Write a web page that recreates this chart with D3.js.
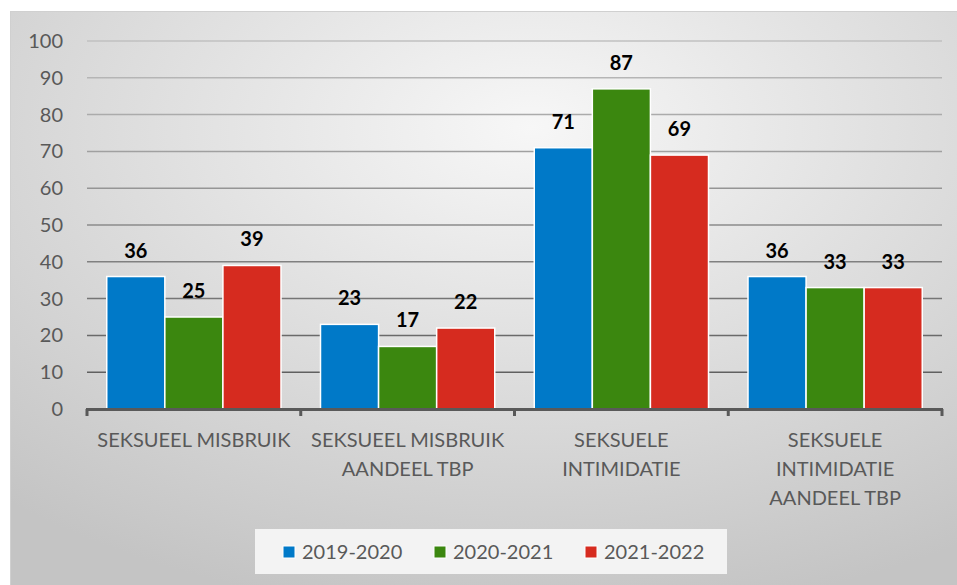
<!DOCTYPE html>
<html>
<head>
<meta charset="utf-8">
<script src="https://cdn.jsdelivr.net/npm/d3@7"></script>
<style>
  body { margin: 0; background: #fff; }
  svg { display: block; font-family: Lato, "Open Sans", sans-serif; }
</style>
</head>
<body>
<svg id="chart" width="957" height="585"></svg>
<script>
// data
var categories = ['SEKSUEEL MISBRUIK', 'SEKSUEEL MISBRUIK AANDEEL TBP', 'SEKSUELE INTIMIDATIE', 'SEKSUELE INTIMIDATIE AANDEEL TBP'];
var categoryLines = [
    ['SEKSUEEL MISBRUIK'],
    ['SEKSUEEL MISBRUIK', 'AANDEEL TBP'],
    ['SEKSUELE', 'INTIMIDATIE'],
    ['SEKSUELE', 'INTIMIDATIE', 'AANDEEL TBP']
];
var seriesNames = ['2019-2020', '2020-2021', '2021-2022'];
var seriesColors = ['#0079c8', '#3b870f', '#d62b1f'];
var values2019 = [36, 23, 71, 36];
var values2020 = [25, 17, 87, 33];
var values2021 = [39, 22, 69, 33];
var yTicks = [0, 10, 20, 30, 40, 50, 60, 70, 80, 90, 100];

var seriesValues = [values2019, values2020, values2021];

var svg = d3.select('#chart');

// background frame with soft radial shading
var defs = svg.append('defs');
var grad = defs.append('radialGradient')
    .attr('id', 'bg')
    .attr('cx', '0.55').attr('cy', '0.2').attr('r', '0.85')
    .attr('fx', '0.55').attr('fy', '0.2');
grad.append('stop').attr('offset', '0').attr('stop-color', '#f7f7f7');
grad.append('stop').attr('offset', '1').attr('stop-color', '#c4c4c4');

svg.append('rect')
    .attr('x', 10.5).attr('y', 11.5)
    .attr('width', 947).attr('height', 580)
    .attr('fill', 'url(#bg)')
    .attr('stroke', '#d0d0d0');

var x = d3.scaleBand().domain(categories).range([87, 942]).padding(0);
var xs = d3.scaleBand().domain(seriesNames).range([0, x.bandwidth()]).paddingInner(0).paddingOuter(0.34);
var y = d3.scaleLinear().domain([0, 100]).range([409, 41]);

var lineColor = d3.scaleLinear().domain([0, 100]).range(['#555555', '#c0c0c0']);

// gridlines
svg.append('g')
    .selectAll('line')
    .data(yTicks.filter(d => d > 0))
    .join('line')
    .attr('x1', 87).attr('x2', 942)
    .attr('y1', d => y(d)).attr('y2', d => y(d))
    .attr('stroke', d => lineColor(d))
    .attr('stroke-width', 1.5);

// y axis labels
var yAxis = d3.axisLeft(y).tickValues(yTicks).tickSize(0).tickPadding(0);
svg.append('g')
    .attr('transform', 'translate(63,0)')
    .call(yAxis)
    .call(g => g.select('.domain').remove())
    .selectAll('text')
    .attr('fill', '#595959')
    .style('font-size', '20px')
    .style('font-family', 'Lato, "Open Sans", sans-serif');

// bars
var groups = svg.append('g')
    .selectAll('g')
    .data(categories)
    .join('g')
    .attr('transform', d => 'translate(' + x(d) + ',0)');

groups.selectAll('rect')
    .data((c, i) => seriesNames.map((s, j) => ({ s: s, v: seriesValues[j][i], c: seriesColors[j] })))
    .join('rect')
    .attr('x', d => xs(d.s))
    .attr('width', xs.bandwidth())
    .attr('y', d => y(d.v))
    .attr('height', d => y(0) - y(d.v))
    .attr('fill', d => d.c)
    .attr('stroke', '#ffffff')
    .attr('stroke-width', 1.5);

groups.selectAll('text.val')
    .data((c, i) => seriesNames.map((s, j) => ({ s: s, v: seriesValues[j][i] })))
    .join('text')
    .attr('class', 'val')
    .attr('x', d => xs(d.s) + xs.bandwidth() / 2)
    .attr('y', d => y(d.v) - 19)
    .attr('text-anchor', 'middle')
    .style('font-size', '20px')
    .style('font-weight', 'bold')
    .attr('fill', '#000')
    .text(d => d.v);

// x axis
var xAxis = d3.axisBottom(x).tickValues([]).tickSizeOuter(0);
svg.append('g')
    .attr('transform', 'translate(0,409)')
    .call(xAxis)
    .call(g => g.select('.domain').remove());

svg.append('line')
    .attr('x1', 86).attr('x2', 943)
    .attr('y1', 409.5).attr('y2', 409.5)
    .attr('stroke', '#595959').attr('stroke-width', 3);

var boundaries = categories.map(c => x(c)).concat([x.range()[1]]);
svg.append('g')
    .selectAll('line')
    .data(boundaries)
    .join('line')
    .attr('x1', d => d).attr('x2', d => d)
    .attr('y1', 409).attr('y2', 416)
    .attr('stroke', '#595959').attr('stroke-width', 3);

// category labels
var catLabels = svg.append('g')
    .selectAll('text')
    .data(categories)
    .join('text')
    .attr('x', d => x(d) + x.bandwidth() / 2)
    .attr('y', 447)
    .attr('text-anchor', 'middle')
    .attr('fill', '#595959')
    .style('font-size', '20px');

catLabels.selectAll('tspan')
    .data((d, i) => categoryLines[i])
    .join('tspan')
    .attr('x', function () { return d3.select(this.parentNode).attr('x'); })
    .attr('dy', (d, i) => i === 0 ? 0 : 29)
    .text(d => d);

// legend
svg.append('rect')
    .attr('x', 255).attr('y', 529)
    .attr('width', 472).attr('height', 45)
    .attr('fill', '#f3f3f3');

var legend = svg.append('g')
    .selectAll('g')
    .data(seriesNames)
    .join('g')
    .attr('transform', (d, i) => 'translate(' + (283 + i * 151) + ',546)');

legend.append('rect')
    .attr('width', 12).attr('height', 12)
    .attr('fill', (d, i) => seriesColors[i])
    .attr('stroke', '#fff').attr('stroke-width', 1);

legend.append('text')
    .attr('x', 19).attr('y', 13)
    .attr('fill', '#595959')
    .style('font-size', '20px')
    .text(d => d);
</script>
</body>
</html>
